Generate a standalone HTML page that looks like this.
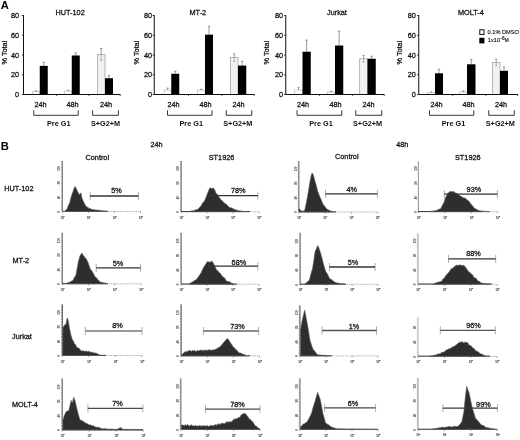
<!DOCTYPE html>
<html><head><meta charset="utf-8"><title>Figure</title>
<style>
html,body{margin:0;padding:0;background:#fff;}
svg{display:block;filter:blur(0.3px);font-family:"Liberation Sans",sans-serif;}
</style></head><body>
<svg width="520" height="440" viewBox="0 0 520 440">
<rect width="520" height="440" fill="#fff"/>
<text x="55.50" y="15.00" font-size="7.3" text-anchor="start" fill="#111" stroke="#111" stroke-width="0.26">HUT-102</text>
<text x="0.00" y="0.00" font-size="7.3" text-anchor="start" fill="#111" stroke="#111" stroke-width="0.26" transform="translate(7.00,64.5) rotate(-90)">% Total</text>
<text x="19.00" y="97.10" font-size="7.3" text-anchor="end" fill="#111" stroke="#111" stroke-width="0.26">0</text>
<path d="M21.90 94.50H23.50" stroke="#111" stroke-width="0.9"/>
<text x="19.00" y="77.35" font-size="7.3" text-anchor="end" fill="#111" stroke="#111" stroke-width="0.26">20</text>
<path d="M21.90 74.75H23.50" stroke="#111" stroke-width="0.9"/>
<text x="19.00" y="57.60" font-size="7.3" text-anchor="end" fill="#111" stroke="#111" stroke-width="0.26">40</text>
<path d="M21.90 55.00H23.50" stroke="#111" stroke-width="0.9"/>
<text x="19.00" y="37.85" font-size="7.3" text-anchor="end" fill="#111" stroke="#111" stroke-width="0.26">60</text>
<path d="M21.90 35.25H23.50" stroke="#111" stroke-width="0.9"/>
<text x="19.00" y="18.10" font-size="7.3" text-anchor="end" fill="#111" stroke="#111" stroke-width="0.26">80</text>
<path d="M21.90 15.50H23.50" stroke="#111" stroke-width="0.9"/>
<rect x="32.40" y="91.54" width="7.35" height="2.96" fill="#fbfbfb" stroke="#c4c4c4" stroke-width="0.8"/>
<path d="M36.08 91.54V90.75M34.88 90.75H37.28" stroke="#777" stroke-width="0.7" fill="none"/>
<path d="M43.75 65.86V62.31M42.55 62.31H44.95" stroke="#6e6e6e" stroke-width="0.7" fill="none"/>
<rect x="39.75" y="65.86" width="8.00" height="28.64" fill="#000"/>
<rect x="64.40" y="90.94" width="7.35" height="3.56" fill="#fbfbfb" stroke="#c4c4c4" stroke-width="0.8"/>
<path d="M68.08 90.94V90.16M66.88 90.16H69.28" stroke="#777" stroke-width="0.7" fill="none"/>
<path d="M75.75 55.49V52.93M74.55 52.93H76.95" stroke="#6e6e6e" stroke-width="0.7" fill="none"/>
<rect x="71.75" y="55.49" width="8.00" height="39.01" fill="#000"/>
<rect x="97.40" y="54.51" width="7.60" height="39.99" fill="#f1f1f1" stroke="#a8a8a8" stroke-width="0.8"/>
<path d="M101.20 54.51V48.58M100.00 48.58H102.40" stroke="#777" stroke-width="0.7" fill="none"/>
<path d="M101.20 54.51V60.43M100.00 60.43H102.40" stroke="#999" stroke-width="0.7" fill="none"/>
<path d="M109.00 78.21V75.64M107.80 75.64H110.20" stroke="#6e6e6e" stroke-width="0.7" fill="none"/>
<rect x="105.00" y="78.21" width="8.00" height="16.29" fill="#000"/>
<path d="M23.50 15.20V94.50H120.50" stroke="#111" stroke-width="1" fill="none"/>
<path d="M56.63 94.50v1.5" stroke="#333" stroke-width="0.8"/>
<path d="M88.97 94.50v1.5" stroke="#333" stroke-width="0.8"/>
<path d="M120.20 94.50v1.5" stroke="#333" stroke-width="0.8"/>
<text x="34.40" y="107.00" font-size="7.3" text-anchor="start" fill="#111" stroke="#111" stroke-width="0.26">24h</text>
<text x="66.50" y="107.00" font-size="7.3" text-anchor="start" fill="#111" stroke="#111" stroke-width="0.26">48h</text>
<text x="100.00" y="107.00" font-size="7.3" text-anchor="start" fill="#111" stroke="#111" stroke-width="0.26">24h</text>
<path d="M33.75 110.3V115.3H78.20V110.3" stroke="#222" stroke-width="0.9" fill="none"/>
<path d="M92.60 110.3V115.3H118.40V110.3" stroke="#222" stroke-width="0.9" fill="none"/>
<text x="47.00" y="126.40" font-size="7.3" font-weight="bold" text-anchor="start" fill="#111">Pre G1</text>
<text x="90.90" y="126.40" font-size="7.3" font-weight="bold" text-anchor="start" fill="#111">S+G2+M</text>
<text x="189.50" y="15.00" font-size="7.3" text-anchor="start" fill="#111" stroke="#111" stroke-width="0.26">MT-2</text>
<text x="0.00" y="0.00" font-size="7.3" text-anchor="start" fill="#111" stroke="#111" stroke-width="0.26" transform="translate(138.60,64.5) rotate(-90)">% Total</text>
<text x="152.00" y="97.10" font-size="7.3" text-anchor="end" fill="#111" stroke="#111" stroke-width="0.26">0</text>
<path d="M152.65 94.50H154.25" stroke="#111" stroke-width="0.9"/>
<text x="152.00" y="77.35" font-size="7.3" text-anchor="end" fill="#111" stroke="#111" stroke-width="0.26">20</text>
<path d="M152.65 74.75H154.25" stroke="#111" stroke-width="0.9"/>
<text x="152.00" y="57.60" font-size="7.3" text-anchor="end" fill="#111" stroke="#111" stroke-width="0.26">40</text>
<path d="M152.65 55.00H154.25" stroke="#111" stroke-width="0.9"/>
<text x="152.00" y="37.85" font-size="7.3" text-anchor="end" fill="#111" stroke="#111" stroke-width="0.26">60</text>
<path d="M152.65 35.25H154.25" stroke="#111" stroke-width="0.9"/>
<text x="152.00" y="18.10" font-size="7.3" text-anchor="end" fill="#111" stroke="#111" stroke-width="0.26">80</text>
<path d="M152.65 15.50H154.25" stroke="#111" stroke-width="0.9"/>
<rect x="164.15" y="90.06" width="7.10" height="4.44" fill="#fbfbfb" stroke="#c4c4c4" stroke-width="0.8"/>
<path d="M167.70 90.06V88.08M166.50 88.08H168.90" stroke="#777" stroke-width="0.7" fill="none"/>
<path d="M175.25 73.76V71.29M174.05 71.29H176.45" stroke="#6e6e6e" stroke-width="0.7" fill="none"/>
<rect x="171.25" y="73.76" width="8.00" height="20.74" fill="#000"/>
<rect x="197.40" y="90.06" width="7.60" height="4.44" fill="#fbfbfb" stroke="#c4c4c4" stroke-width="0.8"/>
<path d="M201.20 90.06V89.27M200.00 89.27H202.40" stroke="#777" stroke-width="0.7" fill="none"/>
<path d="M209.00 34.66V26.36M207.80 26.36H210.20" stroke="#6e6e6e" stroke-width="0.7" fill="none"/>
<rect x="205.00" y="34.66" width="8.00" height="59.84" fill="#000"/>
<rect x="230.40" y="57.57" width="7.60" height="36.93" fill="#f1f1f1" stroke="#a8a8a8" stroke-width="0.8"/>
<path d="M234.20 57.57V53.82M233.00 53.82H235.40" stroke="#777" stroke-width="0.7" fill="none"/>
<path d="M234.20 57.57V61.32M233.00 61.32H235.40" stroke="#999" stroke-width="0.7" fill="none"/>
<path d="M242.12 65.57V61.42M240.93 61.42H243.32" stroke="#6e6e6e" stroke-width="0.7" fill="none"/>
<rect x="238.00" y="65.57" width="8.25" height="28.93" fill="#000"/>
<path d="M154.25 15.20V94.50H254.50" stroke="#111" stroke-width="1" fill="none"/>
<path d="M188.47 94.50v1.5" stroke="#333" stroke-width="0.8"/>
<path d="M221.88 94.50v1.5" stroke="#333" stroke-width="0.8"/>
<path d="M254.20 94.50v1.5" stroke="#333" stroke-width="0.8"/>
<text x="167.50" y="107.00" font-size="7.3" text-anchor="start" fill="#111" stroke="#111" stroke-width="0.26">24h</text>
<text x="199.50" y="107.00" font-size="7.3" text-anchor="start" fill="#111" stroke="#111" stroke-width="0.26">48h</text>
<text x="232.50" y="107.00" font-size="7.3" text-anchor="start" fill="#111" stroke="#111" stroke-width="0.26">24h</text>
<path d="M167.50 110.3V115.3H212.00V110.3" stroke="#222" stroke-width="0.9" fill="none"/>
<path d="M226.25 110.3V115.3H251.75V110.3" stroke="#222" stroke-width="0.9" fill="none"/>
<text x="179.50" y="126.40" font-size="7.3" font-weight="bold" text-anchor="start" fill="#111">Pre G1</text>
<text x="223.25" y="126.40" font-size="7.3" font-weight="bold" text-anchor="start" fill="#111">S+G2+M</text>
<text x="327.00" y="15.00" font-size="7.3" text-anchor="start" fill="#111" stroke="#111" stroke-width="0.26">Jurkat</text>
<text x="0.00" y="0.00" font-size="7.3" text-anchor="start" fill="#111" stroke="#111" stroke-width="0.26" transform="translate(269.40,64.5) rotate(-90)">% Total</text>
<text x="283.00" y="97.10" font-size="7.3" text-anchor="end" fill="#111" stroke="#111" stroke-width="0.26">0</text>
<path d="M284.15 94.50H285.75" stroke="#111" stroke-width="0.9"/>
<text x="283.00" y="77.35" font-size="7.3" text-anchor="end" fill="#111" stroke="#111" stroke-width="0.26">20</text>
<path d="M284.15 74.75H285.75" stroke="#111" stroke-width="0.9"/>
<text x="283.00" y="57.60" font-size="7.3" text-anchor="end" fill="#111" stroke="#111" stroke-width="0.26">40</text>
<path d="M284.15 55.00H285.75" stroke="#111" stroke-width="0.9"/>
<text x="283.00" y="37.85" font-size="7.3" text-anchor="end" fill="#111" stroke="#111" stroke-width="0.26">60</text>
<path d="M284.15 35.25H285.75" stroke="#111" stroke-width="0.9"/>
<text x="283.00" y="18.10" font-size="7.3" text-anchor="end" fill="#111" stroke="#111" stroke-width="0.26">80</text>
<path d="M284.15 15.50H285.75" stroke="#111" stroke-width="0.9"/>
<rect x="294.65" y="90.06" width="7.85" height="4.44" fill="#fbfbfb" stroke="#c4c4c4" stroke-width="0.8"/>
<path d="M298.57 90.06V87.59M297.38 87.59H299.77" stroke="#777" stroke-width="0.7" fill="none"/>
<path d="M306.62 51.74V40.09M305.43 40.09H307.82" stroke="#6e6e6e" stroke-width="0.7" fill="none"/>
<rect x="302.50" y="51.74" width="8.25" height="42.76" fill="#000"/>
<rect x="327.40" y="92.03" width="7.60" height="2.47" fill="#fbfbfb" stroke="#c4c4c4" stroke-width="0.8"/>
<path d="M331.20 92.03V91.24M330.00 91.24H332.40" stroke="#777" stroke-width="0.7" fill="none"/>
<path d="M339.12 45.52V31.30M337.93 31.30H340.32" stroke="#6e6e6e" stroke-width="0.7" fill="none"/>
<rect x="335.00" y="45.52" width="8.25" height="48.98" fill="#000"/>
<rect x="359.65" y="58.75" width="7.85" height="35.75" fill="#f1f1f1" stroke="#a8a8a8" stroke-width="0.8"/>
<path d="M363.57 58.75V55.49M362.38 55.49H364.77" stroke="#777" stroke-width="0.7" fill="none"/>
<path d="M363.57 58.75V62.01M362.38 62.01H364.77" stroke="#999" stroke-width="0.7" fill="none"/>
<path d="M371.62 58.75V56.28M370.43 56.28H372.82" stroke="#6e6e6e" stroke-width="0.7" fill="none"/>
<rect x="367.50" y="58.75" width="8.25" height="35.75" fill="#000"/>
<path d="M285.75 15.20V94.50H384.50" stroke="#111" stroke-width="1" fill="none"/>
<path d="M319.47 94.50v1.5" stroke="#333" stroke-width="0.8"/>
<path d="M352.38 94.50v1.5" stroke="#333" stroke-width="0.8"/>
<path d="M384.20 94.50v1.5" stroke="#333" stroke-width="0.8"/>
<text x="297.00" y="107.00" font-size="7.3" text-anchor="start" fill="#111" stroke="#111" stroke-width="0.26">24h</text>
<text x="329.50" y="107.00" font-size="7.3" text-anchor="start" fill="#111" stroke="#111" stroke-width="0.26">48h</text>
<text x="362.50" y="107.00" font-size="7.3" text-anchor="start" fill="#111" stroke="#111" stroke-width="0.26">24h</text>
<path d="M297.00 110.3V115.3H341.75V110.3" stroke="#222" stroke-width="0.9" fill="none"/>
<path d="M355.75 110.3V115.3H381.75V110.3" stroke="#222" stroke-width="0.9" fill="none"/>
<text x="309.25" y="126.40" font-size="7.3" font-weight="bold" text-anchor="start" fill="#111">Pre G1</text>
<text x="353.00" y="126.40" font-size="7.3" font-weight="bold" text-anchor="start" fill="#111">S+G2+M</text>
<text x="458.00" y="15.00" font-size="7.3" text-anchor="start" fill="#111" stroke="#111" stroke-width="0.26">MOLT-4</text>
<text x="0.00" y="0.00" font-size="7.3" text-anchor="start" fill="#111" stroke="#111" stroke-width="0.26" transform="translate(402.40,64.5) rotate(-90)">% Total</text>
<text x="415.75" y="97.10" font-size="7.3" text-anchor="end" fill="#111" stroke="#111" stroke-width="0.26">0</text>
<path d="M417.15 94.50H418.75" stroke="#111" stroke-width="0.9"/>
<text x="415.75" y="77.35" font-size="7.3" text-anchor="end" fill="#111" stroke="#111" stroke-width="0.26">20</text>
<path d="M417.15 74.75H418.75" stroke="#111" stroke-width="0.9"/>
<text x="415.75" y="57.60" font-size="7.3" text-anchor="end" fill="#111" stroke="#111" stroke-width="0.26">40</text>
<path d="M417.15 55.00H418.75" stroke="#111" stroke-width="0.9"/>
<text x="415.75" y="37.85" font-size="7.3" text-anchor="end" fill="#111" stroke="#111" stroke-width="0.26">60</text>
<path d="M417.15 35.25H418.75" stroke="#111" stroke-width="0.9"/>
<text x="415.75" y="18.10" font-size="7.3" text-anchor="end" fill="#111" stroke="#111" stroke-width="0.26">80</text>
<path d="M417.15 15.50H418.75" stroke="#111" stroke-width="0.9"/>
<rect x="427.40" y="92.53" width="7.60" height="1.97" fill="#fbfbfb" stroke="#c4c4c4" stroke-width="0.8"/>
<path d="M431.20 92.53V91.93M430.00 91.93H432.40" stroke="#777" stroke-width="0.7" fill="none"/>
<path d="M439.00 73.27V69.32M437.80 69.32H440.20" stroke="#6e6e6e" stroke-width="0.7" fill="none"/>
<rect x="435.00" y="73.27" width="8.00" height="21.23" fill="#000"/>
<rect x="459.65" y="92.03" width="7.35" height="2.47" fill="#fbfbfb" stroke="#c4c4c4" stroke-width="0.8"/>
<path d="M463.32 92.03V90.85M462.12 90.85H464.52" stroke="#777" stroke-width="0.7" fill="none"/>
<path d="M471.25 64.28V59.54M470.05 59.54H472.45" stroke="#6e6e6e" stroke-width="0.7" fill="none"/>
<rect x="467.00" y="64.28" width="8.50" height="30.22" fill="#000"/>
<rect x="492.40" y="62.51" width="7.60" height="31.99" fill="#f1f1f1" stroke="#a8a8a8" stroke-width="0.8"/>
<path d="M496.20 62.51V59.25M495.00 59.25H497.40" stroke="#777" stroke-width="0.7" fill="none"/>
<path d="M496.20 62.51V65.76M495.00 65.76H497.40" stroke="#999" stroke-width="0.7" fill="none"/>
<path d="M504.00 70.80V67.05M502.80 67.05H505.20" stroke="#6e6e6e" stroke-width="0.7" fill="none"/>
<rect x="500.00" y="70.80" width="8.00" height="23.70" fill="#000"/>
<path d="M418.75 15.20V94.50H518.00" stroke="#111" stroke-width="1" fill="none"/>
<path d="M452.63 94.50v1.5" stroke="#333" stroke-width="0.8"/>
<path d="M485.72 94.50v1.5" stroke="#333" stroke-width="0.8"/>
<path d="M517.70 94.50v1.5" stroke="#333" stroke-width="0.8"/>
<text x="430.50" y="107.00" font-size="7.3" text-anchor="start" fill="#111" stroke="#111" stroke-width="0.26">24h</text>
<text x="462.50" y="107.00" font-size="7.3" text-anchor="start" fill="#111" stroke="#111" stroke-width="0.26">48h</text>
<text x="495.00" y="107.00" font-size="7.3" text-anchor="start" fill="#111" stroke="#111" stroke-width="0.26">24h</text>
<path d="M429.50 110.3V115.3H473.75V110.3" stroke="#222" stroke-width="0.9" fill="none"/>
<path d="M488.75 110.3V115.3H514.25V110.3" stroke="#222" stroke-width="0.9" fill="none"/>
<text x="441.75" y="126.40" font-size="7.3" font-weight="bold" text-anchor="start" fill="#111">Pre G1</text>
<text x="485.75" y="126.40" font-size="7.3" font-weight="bold" text-anchor="start" fill="#111">S+G2+M</text>
<text x="0.80" y="9.20" font-size="11.2" font-weight="bold" text-anchor="start" fill="#000">A</text>
<text x="0.80" y="149.60" font-size="11.2" font-weight="bold" text-anchor="start" fill="#000">B</text>
<rect x="479.8" y="29.8" width="4.2" height="4.7" fill="#fff" stroke="#111" stroke-width="1"/>
<rect x="479.3" y="37.8" width="5.1" height="5.6" fill="#000"/>
<text x="487.60" y="33.80" font-size="5.65" text-anchor="start" fill="#111" stroke="#111" stroke-width="0.14">0.1% DMSO</text>
<text x="487.80" y="41.90" font-size="5.65" text-anchor="start" fill="#111" stroke="#111" stroke-width="0.14">1x10<tspan dy="-2.2" font-size="5.4">-6</tspan><tspan dy="2.2" font-size="4.8">M</tspan></text>
<text x="150.50" y="146.80" font-size="7.3" text-anchor="start" fill="#111" stroke="#111" stroke-width="0.26">24h</text>
<text x="396.25" y="147.00" font-size="7.3" text-anchor="start" fill="#111" stroke="#111" stroke-width="0.26">48h</text>
<text x="85.50" y="159.50" font-size="7.3" text-anchor="start" fill="#111" stroke="#111" stroke-width="0.26">Control</text>
<text x="208.75" y="159.50" font-size="7.3" text-anchor="start" fill="#111" stroke="#111" stroke-width="0.26">ST1926</text>
<text x="335.00" y="159.30" font-size="7.3" text-anchor="start" fill="#111" stroke="#111" stroke-width="0.26">Control</text>
<text x="455.00" y="159.70" font-size="7.3" text-anchor="start" fill="#111" stroke="#111" stroke-width="0.26">ST1926</text>
<text x="4.25" y="191.30" font-size="7.3" text-anchor="start" fill="#111" stroke="#111" stroke-width="0.26">HUT-102</text>
<text x="12.50" y="262.80" font-size="7.3" text-anchor="start" fill="#111" stroke="#111" stroke-width="0.26">MT-2</text>
<text x="12.00" y="338.75" font-size="7.3" text-anchor="start" fill="#111" stroke="#111" stroke-width="0.26">Jurkat</text>
<text x="12.00" y="406.80" font-size="7.3" text-anchor="start" fill="#111" stroke="#111" stroke-width="0.26">MOLT-4</text>
<path d="M62.30 161.00V211.50" stroke="#555" stroke-width="0.9" fill="none"/>
<path d="M61.60 161.00V211.50" stroke="#555" stroke-width="0.9" stroke-dasharray="0.6 0.9" stroke-opacity="0.75" fill="none"/>
<path d="M62.30 211.50H140.60" stroke="#a8a8a8" stroke-width="0.9" stroke-dasharray="1.1 0.7" fill="none"/>
<text x="0.00" y="0.00" font-size="2.7" text-anchor="start" fill="#666" stroke="#666" stroke-width="0.14" transform="translate(60.30,212.59) rotate(-90)">0</text>
<text x="0.00" y="0.00" font-size="2.7" text-anchor="start" fill="#666" stroke="#666" stroke-width="0.14" transform="translate(60.30,198.98) rotate(-90)">40</text>
<text x="0.00" y="0.00" font-size="2.7" text-anchor="start" fill="#666" stroke="#666" stroke-width="0.14" transform="translate(60.30,184.28) rotate(-90)">80</text>
<text x="0.00" y="0.00" font-size="2.7" text-anchor="start" fill="#666" stroke="#666" stroke-width="0.14" transform="translate(60.30,170.66) rotate(-90)">120</text>
<path d="M62.30 211.50v1.6" stroke="#777" stroke-width="0.7"/>
<text x="60.60" y="218.50" font-size="2.7" text-anchor="start" fill="#444" stroke="#444" stroke-width="0.14">10<tspan dy="-1.9" dx="-0.4" font-size="2.4">0</tspan></text>
<path d="M88.40 211.50v1.6" stroke="#777" stroke-width="0.7"/>
<text x="86.70" y="218.50" font-size="2.7" text-anchor="start" fill="#444" stroke="#444" stroke-width="0.14">10<tspan dy="-1.9" dx="-0.4" font-size="2.4">1</tspan></text>
<path d="M114.50 211.50v1.6" stroke="#777" stroke-width="0.7"/>
<text x="112.80" y="218.50" font-size="2.7" text-anchor="start" fill="#444" stroke="#444" stroke-width="0.14">10<tspan dy="-1.9" dx="-0.4" font-size="2.4">2</tspan></text>
<path d="M140.60 211.50v1.6" stroke="#777" stroke-width="0.7"/>
<text x="138.90" y="218.50" font-size="2.7" text-anchor="start" fill="#444" stroke="#444" stroke-width="0.14">10<tspan dy="-1.9" dx="-0.4" font-size="2.4">3</tspan></text>
<path d="M63.00 211.35H108.00" stroke="#3a3a3a" stroke-width="1" fill="none"/>
<path d="M90.10 192.00v8M138.40 192.00v8" stroke="#999" stroke-width="0.8" fill="none"/>
<path d="M64.50 211.30 L65.75 210.13 L67.00 209.11 L68.25 205.54 L69.50 203.27 L70.75 198.18 L72.00 193.90 L72.97 191.65 L73.93 188.45 L74.90 186.41 L75.95 187.86 L77.00 190.27 L78.25 192.75 L79.50 194.83 L81.00 192.82 L82.00 198.20 L83.10 200.75 L84.20 202.90 L85.30 205.17 L86.22 206.27 L87.15 207.13 L88.08 207.18 L89.00 208.72 L90.00 208.25 L91.00 209.00 L92.00 209.36 L93.00 209.63 L94.00 209.73 L95.00 209.64 L95.92 210.16 L96.85 209.99 L97.77 210.05 L98.69 210.32 L99.62 210.30 L100.54 210.55 L101.46 210.65 L102.38 210.74 L103.31 210.83 L104.23 210.92 L105.15 211.02 L106.08 211.11 L107.00 211.20 L107.00 211.50 L64.50 211.50Z" fill="#2e2e2e" stroke="#666" stroke-width="0.6" stroke-linejoin="round"/>
<path d="M90.10 196.00H138.40" stroke="#333" stroke-width="1.3" fill="none"/>
<text x="116.40" y="193.40" font-size="7.3" text-anchor="middle" fill="#111" stroke="#111" stroke-width="0.26">5%</text>
<path d="M181.20 161.00V211.70" stroke="#555" stroke-width="0.9" fill="none"/>
<path d="M180.50 161.00V211.70" stroke="#555" stroke-width="0.9" stroke-dasharray="0.6 0.9" stroke-opacity="0.75" fill="none"/>
<path d="M181.20 211.70H259.00" stroke="#a8a8a8" stroke-width="0.9" stroke-dasharray="1.1 0.7" fill="none"/>
<text x="0.00" y="0.00" font-size="2.7" text-anchor="start" fill="#666" stroke="#666" stroke-width="0.14" transform="translate(179.20,212.79) rotate(-90)">0</text>
<text x="0.00" y="0.00" font-size="2.7" text-anchor="start" fill="#666" stroke="#666" stroke-width="0.14" transform="translate(179.20,199.18) rotate(-90)">40</text>
<text x="0.00" y="0.00" font-size="2.7" text-anchor="start" fill="#666" stroke="#666" stroke-width="0.14" transform="translate(179.20,184.47) rotate(-90)">80</text>
<text x="0.00" y="0.00" font-size="2.7" text-anchor="start" fill="#666" stroke="#666" stroke-width="0.14" transform="translate(179.20,170.86) rotate(-90)">120</text>
<path d="M181.20 211.70v1.6" stroke="#777" stroke-width="0.7"/>
<text x="179.50" y="218.70" font-size="2.7" text-anchor="start" fill="#444" stroke="#444" stroke-width="0.14">10<tspan dy="-1.9" dx="-0.4" font-size="2.4">0</tspan></text>
<path d="M207.13 211.70v1.6" stroke="#777" stroke-width="0.7"/>
<text x="205.43" y="218.70" font-size="2.7" text-anchor="start" fill="#444" stroke="#444" stroke-width="0.14">10<tspan dy="-1.9" dx="-0.4" font-size="2.4">1</tspan></text>
<path d="M233.07 211.70v1.6" stroke="#777" stroke-width="0.7"/>
<text x="231.37" y="218.70" font-size="2.7" text-anchor="start" fill="#444" stroke="#444" stroke-width="0.14">10<tspan dy="-1.9" dx="-0.4" font-size="2.4">2</tspan></text>
<path d="M259.00 211.70v1.6" stroke="#777" stroke-width="0.7"/>
<text x="257.30" y="218.70" font-size="2.7" text-anchor="start" fill="#444" stroke="#444" stroke-width="0.14">10<tspan dy="-1.9" dx="-0.4" font-size="2.4">3</tspan></text>
<path d="M181.00 211.55H250.00" stroke="#3a3a3a" stroke-width="1" fill="none"/>
<path d="M209.00 191.70v8M257.90 191.70v8" stroke="#999" stroke-width="0.8" fill="none"/>
<path d="M189.00 211.50 L189.97 211.28 L190.93 211.06 L191.90 210.83 L192.87 210.75 L193.83 210.54 L194.80 210.22 L195.77 209.66 L196.73 209.62 L197.70 209.48 L198.80 208.04 L199.90 206.97 L201.00 205.98 L202.20 203.63 L203.40 202.01 L204.60 200.85 L205.57 198.17 L206.53 195.96 L207.50 193.26 L208.50 190.69 L209.50 188.50 L210.40 187.62 L211.30 188.71 L212.20 188.33 L213.10 187.91 L214.00 188.67 L215.00 190.49 L216.00 193.31 L217.00 194.02 L218.00 195.40 L219.00 197.14 L220.00 198.26 L220.90 199.86 L221.80 200.28 L222.70 201.31 L223.60 202.23 L224.50 203.29 L225.57 203.68 L226.65 204.42 L227.73 205.89 L228.80 206.55 L229.84 207.75 L230.88 207.57 L231.92 208.16 L232.96 208.39 L234.00 209.08 L235.00 209.74 L236.00 209.91 L237.00 209.96 L238.00 210.63 L239.00 210.70 L240.00 210.83 L241.00 210.96 L242.00 211.09 L243.00 211.21 L244.00 211.34 L245.00 211.47 L246.00 211.60 L246.00 211.70 L189.00 211.70Z" fill="#2e2e2e" stroke="#666" stroke-width="0.6" stroke-linejoin="round"/>
<path d="M209.00 195.70H257.90" stroke="#333" stroke-width="1.3" fill="none"/>
<text x="238.30" y="193.20" font-size="7.3" text-anchor="middle" fill="#111" stroke="#111" stroke-width="0.26">78%</text>
<path d="M298.90 161.00V212.00" stroke="#555" stroke-width="0.9" fill="none"/>
<path d="M298.20 161.00V212.00" stroke="#555" stroke-width="0.9" stroke-dasharray="0.6 0.9" stroke-opacity="0.75" fill="none"/>
<path d="M298.90 212.00H377.40" stroke="#a8a8a8" stroke-width="0.9" stroke-dasharray="1.1 0.7" fill="none"/>
<text x="0.00" y="0.00" font-size="2.7" text-anchor="start" fill="#666" stroke="#666" stroke-width="0.14" transform="translate(296.90,213.09) rotate(-90)">0</text>
<text x="0.00" y="0.00" font-size="2.7" text-anchor="start" fill="#666" stroke="#666" stroke-width="0.14" transform="translate(296.90,199.48) rotate(-90)">40</text>
<text x="0.00" y="0.00" font-size="2.7" text-anchor="start" fill="#666" stroke="#666" stroke-width="0.14" transform="translate(296.90,184.78) rotate(-90)">80</text>
<text x="0.00" y="0.00" font-size="2.7" text-anchor="start" fill="#666" stroke="#666" stroke-width="0.14" transform="translate(296.90,171.16) rotate(-90)">120</text>
<path d="M298.90 212.00v1.6" stroke="#777" stroke-width="0.7"/>
<text x="297.20" y="219.00" font-size="2.7" text-anchor="start" fill="#444" stroke="#444" stroke-width="0.14">10<tspan dy="-1.9" dx="-0.4" font-size="2.4">0</tspan></text>
<path d="M325.07 212.00v1.6" stroke="#777" stroke-width="0.7"/>
<text x="323.37" y="219.00" font-size="2.7" text-anchor="start" fill="#444" stroke="#444" stroke-width="0.14">10<tspan dy="-1.9" dx="-0.4" font-size="2.4">1</tspan></text>
<path d="M351.23 212.00v1.6" stroke="#777" stroke-width="0.7"/>
<text x="349.53" y="219.00" font-size="2.7" text-anchor="start" fill="#444" stroke="#444" stroke-width="0.14">10<tspan dy="-1.9" dx="-0.4" font-size="2.4">2</tspan></text>
<path d="M377.40 212.00v1.6" stroke="#777" stroke-width="0.7"/>
<text x="375.70" y="219.00" font-size="2.7" text-anchor="start" fill="#444" stroke="#444" stroke-width="0.14">10<tspan dy="-1.9" dx="-0.4" font-size="2.4">3</tspan></text>
<path d="M299.00 211.85H336.00" stroke="#3a3a3a" stroke-width="1" fill="none"/>
<path d="M325.50 189.90v8M377.40 189.90v8" stroke="#999" stroke-width="0.8" fill="none"/>
<path d="M299.00 208.84 L300.30 209.60 L301.50 211.20 L302.57 211.07 L303.63 210.88 L304.70 210.17 L306.00 204.15 L307.30 197.45 L308.60 189.92 L309.90 181.96 L311.00 176.06 L312.00 172.99 L313.20 174.47 L314.50 179.25 L315.57 183.09 L316.63 186.80 L317.70 191.31 L318.77 193.96 L319.85 196.86 L320.93 199.02 L322.00 201.75 L323.04 204.15 L324.08 205.50 L325.12 206.81 L326.16 208.18 L327.20 209.33 L328.17 209.65 L329.13 210.28 L330.10 210.83 L331.07 211.03 L332.03 211.42 L333.00 211.80 L333.00 212.00 L299.00 212.00Z" fill="#2e2e2e" stroke="#666" stroke-width="0.6" stroke-linejoin="round"/>
<path d="M325.50 193.90H377.40" stroke="#333" stroke-width="1.3" fill="none"/>
<text x="351.80" y="192.00" font-size="7.3" text-anchor="middle" fill="#111" stroke="#111" stroke-width="0.26">4%</text>
<path d="M418.50 161.50V211.70" stroke="#999" stroke-width="0.9" fill="none"/>
<path d="M417.80 161.50V211.70" stroke="#999" stroke-width="0.9" stroke-dasharray="0.6 0.9" stroke-opacity="0.75" fill="none"/>
<path d="M418.50 211.70H497.80" stroke="#a8a8a8" stroke-width="0.9" stroke-dasharray="1.1 0.7" fill="none"/>
<text x="0.00" y="0.00" font-size="2.7" text-anchor="start" fill="#666" stroke="#666" stroke-width="0.14" transform="translate(416.50,212.79) rotate(-90)">0</text>
<text x="0.00" y="0.00" font-size="2.7" text-anchor="start" fill="#666" stroke="#666" stroke-width="0.14" transform="translate(416.50,199.18) rotate(-90)">40</text>
<text x="0.00" y="0.00" font-size="2.7" text-anchor="start" fill="#666" stroke="#666" stroke-width="0.14" transform="translate(416.50,184.47) rotate(-90)">80</text>
<text x="0.00" y="0.00" font-size="2.7" text-anchor="start" fill="#666" stroke="#666" stroke-width="0.14" transform="translate(416.50,170.86) rotate(-90)">120</text>
<path d="M418.50 211.70v1.6" stroke="#777" stroke-width="0.7"/>
<text x="416.80" y="218.70" font-size="2.7" text-anchor="start" fill="#444" stroke="#444" stroke-width="0.14">10<tspan dy="-1.9" dx="-0.4" font-size="2.4">0</tspan></text>
<path d="M444.93 211.70v1.6" stroke="#777" stroke-width="0.7"/>
<text x="443.23" y="218.70" font-size="2.7" text-anchor="start" fill="#444" stroke="#444" stroke-width="0.14">10<tspan dy="-1.9" dx="-0.4" font-size="2.4">1</tspan></text>
<path d="M471.37 211.70v1.6" stroke="#777" stroke-width="0.7"/>
<text x="469.67" y="218.70" font-size="2.7" text-anchor="start" fill="#444" stroke="#444" stroke-width="0.14">10<tspan dy="-1.9" dx="-0.4" font-size="2.4">2</tspan></text>
<path d="M497.80 211.70v1.6" stroke="#777" stroke-width="0.7"/>
<text x="496.10" y="218.70" font-size="2.7" text-anchor="start" fill="#444" stroke="#444" stroke-width="0.14">10<tspan dy="-1.9" dx="-0.4" font-size="2.4">3</tspan></text>
<path d="M418.00 211.55H482.00" stroke="#3a3a3a" stroke-width="1" fill="none"/>
<path d="M444.30 190.10v8M497.40 190.10v8" stroke="#999" stroke-width="0.8" fill="none"/>
<path d="M429.00 211.40 L430.00 211.29 L431.00 211.17 L432.00 211.06 L433.00 210.94 L434.00 210.83 L435.00 210.71 L436.00 210.52 L436.94 210.22 L437.88 209.76 L438.82 209.13 L439.76 208.99 L440.70 208.80 L441.85 206.34 L443.00 204.01 L444.00 202.24 L445.00 198.63 L446.25 196.33 L447.50 193.76 L448.75 192.40 L450.00 191.47 L451.13 191.46 L452.27 191.83 L453.40 191.16 L454.32 192.36 L455.24 192.84 L456.16 193.14 L457.08 193.68 L458.00 193.93 L458.98 194.95 L459.96 195.68 L460.94 196.15 L461.92 196.87 L462.90 197.20 L463.96 198.27 L465.02 197.84 L466.08 198.81 L467.14 200.03 L468.20 200.54 L469.13 201.59 L470.07 202.73 L471.00 204.21 L472.25 205.24 L473.50 207.16 L474.40 208.14 L475.30 208.55 L476.20 209.31 L477.10 209.70 L478.00 209.93 L478.90 210.40 L479.80 210.80 L480.73 210.87 L481.65 210.95 L482.58 211.02 L483.51 211.09 L484.44 211.16 L485.36 211.24 L486.29 211.31 L487.22 211.38 L488.15 211.45 L489.07 211.53 L490.00 211.60 L490.00 211.70 L429.00 211.70Z" fill="#2e2e2e" stroke="#666" stroke-width="0.6" stroke-linejoin="round"/>
<path d="M444.30 194.10H497.40" stroke="#333" stroke-width="1.3" fill="none"/>
<text x="473.90" y="192.00" font-size="7.3" text-anchor="middle" fill="#111" stroke="#111" stroke-width="0.26">93%</text>
<path d="M62.30 232.80V283.80" stroke="#555" stroke-width="0.9" fill="none"/>
<path d="M61.60 232.80V283.80" stroke="#555" stroke-width="0.9" stroke-dasharray="0.6 0.9" stroke-opacity="0.75" fill="none"/>
<path d="M62.30 283.80H141.00" stroke="#a8a8a8" stroke-width="0.9" stroke-dasharray="1.1 0.7" fill="none"/>
<text x="0.00" y="0.00" font-size="2.7" text-anchor="start" fill="#666" stroke="#666" stroke-width="0.14" transform="translate(60.30,284.89) rotate(-90)">0</text>
<text x="0.00" y="0.00" font-size="2.7" text-anchor="start" fill="#666" stroke="#666" stroke-width="0.14" transform="translate(60.30,271.28) rotate(-90)">40</text>
<text x="0.00" y="0.00" font-size="2.7" text-anchor="start" fill="#666" stroke="#666" stroke-width="0.14" transform="translate(60.30,256.57) rotate(-90)">80</text>
<text x="0.00" y="0.00" font-size="2.7" text-anchor="start" fill="#666" stroke="#666" stroke-width="0.14" transform="translate(60.30,242.96) rotate(-90)">120</text>
<path d="M62.30 283.80v1.6" stroke="#777" stroke-width="0.7"/>
<text x="60.60" y="290.80" font-size="2.7" text-anchor="start" fill="#444" stroke="#444" stroke-width="0.14">10<tspan dy="-1.9" dx="-0.4" font-size="2.4">0</tspan></text>
<path d="M88.53 283.80v1.6" stroke="#777" stroke-width="0.7"/>
<text x="86.83" y="290.80" font-size="2.7" text-anchor="start" fill="#444" stroke="#444" stroke-width="0.14">10<tspan dy="-1.9" dx="-0.4" font-size="2.4">1</tspan></text>
<path d="M114.77 283.80v1.6" stroke="#777" stroke-width="0.7"/>
<text x="113.07" y="290.80" font-size="2.7" text-anchor="start" fill="#444" stroke="#444" stroke-width="0.14">10<tspan dy="-1.9" dx="-0.4" font-size="2.4">2</tspan></text>
<path d="M141.00 283.80v1.6" stroke="#777" stroke-width="0.7"/>
<text x="139.30" y="290.80" font-size="2.7" text-anchor="start" fill="#444" stroke="#444" stroke-width="0.14">10<tspan dy="-1.9" dx="-0.4" font-size="2.4">3</tspan></text>
<path d="M62.00 283.65H108.00" stroke="#3a3a3a" stroke-width="1" fill="none"/>
<path d="M96.20 263.90v8M140.60 263.90v8" stroke="#999" stroke-width="0.8" fill="none"/>
<path d="M65.40 283.60 L66.39 283.26 L67.37 282.91 L68.36 282.23 L69.34 282.31 L70.33 282.08 L71.31 281.01 L72.30 280.99 L73.47 279.36 L74.63 276.88 L75.80 275.53 L77.10 268.39 L78.40 261.33 L80.00 255.77 L81.80 252.98 L82.90 254.78 L84.00 255.90 L85.00 257.65 L86.00 258.39 L87.00 260.19 L88.17 262.75 L89.33 266.18 L90.50 269.18 L91.58 270.39 L92.65 272.12 L93.72 274.24 L94.80 276.24 L95.84 277.19 L96.88 278.26 L97.92 279.84 L98.96 280.53 L100.00 281.65 L101.00 282.16 L102.00 282.42 L103.00 282.52 L104.00 282.80 L105.00 283.06 L106.00 283.33 L107.00 283.60 L107.00 283.80 L65.40 283.80Z" fill="#2e2e2e" stroke="#666" stroke-width="0.6" stroke-linejoin="round"/>
<path d="M96.20 267.90H140.60" stroke="#333" stroke-width="1.3" fill="none"/>
<text x="118.10" y="266.00" font-size="7.3" text-anchor="middle" fill="#111" stroke="#111" stroke-width="0.26">5%</text>
<path d="M181.20 232.80V284.20" stroke="#555" stroke-width="0.9" fill="none"/>
<path d="M180.50 232.80V284.20" stroke="#555" stroke-width="0.9" stroke-dasharray="0.6 0.9" stroke-opacity="0.75" fill="none"/>
<path d="M181.20 284.20H259.00" stroke="#a8a8a8" stroke-width="0.9" stroke-dasharray="1.1 0.7" fill="none"/>
<text x="0.00" y="0.00" font-size="2.7" text-anchor="start" fill="#666" stroke="#666" stroke-width="0.14" transform="translate(179.20,285.29) rotate(-90)">0</text>
<text x="0.00" y="0.00" font-size="2.7" text-anchor="start" fill="#666" stroke="#666" stroke-width="0.14" transform="translate(179.20,271.68) rotate(-90)">40</text>
<text x="0.00" y="0.00" font-size="2.7" text-anchor="start" fill="#666" stroke="#666" stroke-width="0.14" transform="translate(179.20,256.97) rotate(-90)">80</text>
<text x="0.00" y="0.00" font-size="2.7" text-anchor="start" fill="#666" stroke="#666" stroke-width="0.14" transform="translate(179.20,243.36) rotate(-90)">120</text>
<path d="M181.20 284.20v1.6" stroke="#777" stroke-width="0.7"/>
<text x="179.50" y="291.20" font-size="2.7" text-anchor="start" fill="#444" stroke="#444" stroke-width="0.14">10<tspan dy="-1.9" dx="-0.4" font-size="2.4">0</tspan></text>
<path d="M207.13 284.20v1.6" stroke="#777" stroke-width="0.7"/>
<text x="205.43" y="291.20" font-size="2.7" text-anchor="start" fill="#444" stroke="#444" stroke-width="0.14">10<tspan dy="-1.9" dx="-0.4" font-size="2.4">1</tspan></text>
<path d="M233.07 284.20v1.6" stroke="#777" stroke-width="0.7"/>
<text x="231.37" y="291.20" font-size="2.7" text-anchor="start" fill="#444" stroke="#444" stroke-width="0.14">10<tspan dy="-1.9" dx="-0.4" font-size="2.4">2</tspan></text>
<path d="M259.00 284.20v1.6" stroke="#777" stroke-width="0.7"/>
<text x="257.30" y="291.20" font-size="2.7" text-anchor="start" fill="#444" stroke="#444" stroke-width="0.14">10<tspan dy="-1.9" dx="-0.4" font-size="2.4">3</tspan></text>
<path d="M181.00 284.05H237.00" stroke="#3a3a3a" stroke-width="1" fill="none"/>
<path d="M207.20 262.20v8M257.90 262.20v8" stroke="#999" stroke-width="0.8" fill="none"/>
<path d="M189.00 284.00 L190.00 283.49 L191.00 282.71 L192.00 281.98 L193.00 281.81 L194.00 280.86 L195.00 280.24 L196.00 279.70 L197.02 278.74 L198.04 277.36 L199.06 275.79 L200.08 274.27 L201.10 272.70 L202.20 270.22 L203.30 267.93 L204.40 266.05 L205.50 264.56 L207.20 261.74 L208.24 261.55 L209.28 262.45 L210.32 261.73 L211.36 261.41 L212.40 261.57 L214.00 264.41 L215.35 267.26 L216.70 270.14 L217.74 270.57 L218.78 272.34 L219.82 272.95 L220.86 273.94 L221.90 275.86 L222.92 276.89 L223.94 277.25 L224.96 278.58 L225.98 280.28 L227.00 281.34 L228.00 281.71 L229.00 281.51 L230.00 282.02 L231.00 282.89 L232.00 283.20 L233.00 283.60 L234.00 284.00 L234.00 284.20 L189.00 284.20Z" fill="#2e2e2e" stroke="#666" stroke-width="0.6" stroke-linejoin="round"/>
<path d="M207.20 266.20H257.90" stroke="#333" stroke-width="1.3" fill="none"/>
<text x="238.90" y="264.80" font-size="7.3" text-anchor="middle" fill="#111" stroke="#111" stroke-width="0.26">68%</text>
<path d="M300.20 232.80V284.30" stroke="#555" stroke-width="0.9" fill="none"/>
<path d="M299.50 232.80V284.30" stroke="#555" stroke-width="0.9" stroke-dasharray="0.6 0.9" stroke-opacity="0.75" fill="none"/>
<path d="M300.20 284.30H378.00" stroke="#a8a8a8" stroke-width="0.9" stroke-dasharray="1.1 0.7" fill="none"/>
<text x="0.00" y="0.00" font-size="2.7" text-anchor="start" fill="#666" stroke="#666" stroke-width="0.14" transform="translate(298.20,285.39) rotate(-90)">0</text>
<text x="0.00" y="0.00" font-size="2.7" text-anchor="start" fill="#666" stroke="#666" stroke-width="0.14" transform="translate(298.20,271.78) rotate(-90)">40</text>
<text x="0.00" y="0.00" font-size="2.7" text-anchor="start" fill="#666" stroke="#666" stroke-width="0.14" transform="translate(298.20,257.07) rotate(-90)">80</text>
<text x="0.00" y="0.00" font-size="2.7" text-anchor="start" fill="#666" stroke="#666" stroke-width="0.14" transform="translate(298.20,243.46) rotate(-90)">120</text>
<path d="M300.20 284.30v1.6" stroke="#777" stroke-width="0.7"/>
<text x="298.50" y="291.30" font-size="2.7" text-anchor="start" fill="#444" stroke="#444" stroke-width="0.14">10<tspan dy="-1.9" dx="-0.4" font-size="2.4">0</tspan></text>
<path d="M326.13 284.30v1.6" stroke="#777" stroke-width="0.7"/>
<text x="324.43" y="291.30" font-size="2.7" text-anchor="start" fill="#444" stroke="#444" stroke-width="0.14">10<tspan dy="-1.9" dx="-0.4" font-size="2.4">1</tspan></text>
<path d="M352.07 284.30v1.6" stroke="#777" stroke-width="0.7"/>
<text x="350.37" y="291.30" font-size="2.7" text-anchor="start" fill="#444" stroke="#444" stroke-width="0.14">10<tspan dy="-1.9" dx="-0.4" font-size="2.4">2</tspan></text>
<path d="M378.00 284.30v1.6" stroke="#777" stroke-width="0.7"/>
<text x="376.30" y="291.30" font-size="2.7" text-anchor="start" fill="#444" stroke="#444" stroke-width="0.14">10<tspan dy="-1.9" dx="-0.4" font-size="2.4">3</tspan></text>
<path d="M300.00 284.15H346.00" stroke="#3a3a3a" stroke-width="1" fill="none"/>
<path d="M329.40 263.00v8M375.10 263.00v8" stroke="#999" stroke-width="0.8" fill="none"/>
<path d="M304.70 284.00 L305.77 283.30 L306.85 282.22 L307.93 281.33 L309.00 280.85 L310.17 276.82 L311.33 272.27 L312.50 268.49 L313.75 260.84 L315.00 251.84 L316.35 248.79 L317.70 245.50 L318.60 247.08 L319.50 249.81 L320.75 253.61 L322.00 258.02 L323.17 262.83 L324.33 266.81 L325.50 270.79 L326.57 272.81 L327.65 274.32 L328.73 276.68 L329.80 278.43 L330.80 279.52 L331.80 279.38 L332.80 280.73 L333.80 281.38 L334.80 282.04 L335.80 282.60 L336.72 283.04 L337.64 282.86 L338.56 283.36 L339.48 283.48 L340.40 283.60 L341.32 283.72 L342.24 283.84 L343.16 283.96 L344.08 284.08 L345.00 284.20 L345.00 284.30 L304.70 284.30Z" fill="#2e2e2e" stroke="#666" stroke-width="0.6" stroke-linejoin="round"/>
<path d="M329.40 267.00H375.10" stroke="#333" stroke-width="1.3" fill="none"/>
<text x="353.10" y="265.00" font-size="7.3" text-anchor="middle" fill="#111" stroke="#111" stroke-width="0.26">5%</text>
<path d="M418.00 233.50V284.20" stroke="#999" stroke-width="0.9" fill="none"/>
<path d="M417.30 233.50V284.20" stroke="#999" stroke-width="0.9" stroke-dasharray="0.6 0.9" stroke-opacity="0.75" fill="none"/>
<path d="M418.00 284.20H497.20" stroke="#a8a8a8" stroke-width="0.9" stroke-dasharray="1.1 0.7" fill="none"/>
<text x="0.00" y="0.00" font-size="2.7" text-anchor="start" fill="#666" stroke="#666" stroke-width="0.14" transform="translate(416.00,285.29) rotate(-90)">0</text>
<text x="0.00" y="0.00" font-size="2.7" text-anchor="start" fill="#666" stroke="#666" stroke-width="0.14" transform="translate(416.00,271.68) rotate(-90)">40</text>
<text x="0.00" y="0.00" font-size="2.7" text-anchor="start" fill="#666" stroke="#666" stroke-width="0.14" transform="translate(416.00,256.97) rotate(-90)">80</text>
<text x="0.00" y="0.00" font-size="2.7" text-anchor="start" fill="#666" stroke="#666" stroke-width="0.14" transform="translate(416.00,243.36) rotate(-90)">120</text>
<path d="M418.00 284.20v1.6" stroke="#777" stroke-width="0.7"/>
<text x="416.30" y="291.20" font-size="2.7" text-anchor="start" fill="#444" stroke="#444" stroke-width="0.14">10<tspan dy="-1.9" dx="-0.4" font-size="2.4">0</tspan></text>
<path d="M444.40 284.20v1.6" stroke="#777" stroke-width="0.7"/>
<text x="442.70" y="291.20" font-size="2.7" text-anchor="start" fill="#444" stroke="#444" stroke-width="0.14">10<tspan dy="-1.9" dx="-0.4" font-size="2.4">1</tspan></text>
<path d="M470.80 284.20v1.6" stroke="#777" stroke-width="0.7"/>
<text x="469.10" y="291.20" font-size="2.7" text-anchor="start" fill="#444" stroke="#444" stroke-width="0.14">10<tspan dy="-1.9" dx="-0.4" font-size="2.4">2</tspan></text>
<path d="M497.20 284.20v1.6" stroke="#777" stroke-width="0.7"/>
<text x="495.50" y="291.20" font-size="2.7" text-anchor="start" fill="#444" stroke="#444" stroke-width="0.14">10<tspan dy="-1.9" dx="-0.4" font-size="2.4">3</tspan></text>
<path d="M418.00 284.05H492.00" stroke="#3a3a3a" stroke-width="1" fill="none"/>
<path d="M448.50 254.80v8M495.70 254.80v8" stroke="#999" stroke-width="0.8" fill="none"/>
<path d="M433.30 284.00 L434.23 283.67 L435.17 283.33 L436.10 282.82 L437.03 282.44 L437.97 282.10 L438.90 282.28 L439.83 281.49 L440.77 281.46 L441.70 281.36 L442.76 278.96 L443.82 278.67 L444.88 276.90 L445.94 275.22 L447.00 274.25 L448.07 273.31 L449.15 271.66 L450.23 270.27 L451.30 268.56 L452.35 268.80 L453.40 267.14 L454.45 266.76 L455.50 265.81 L456.44 264.98 L457.39 265.43 L458.33 265.34 L459.28 265.00 L460.22 264.75 L461.17 265.54 L462.11 265.25 L463.06 265.43 L464.00 265.42 L465.25 266.72 L466.50 268.72 L467.85 270.38 L469.20 272.28 L470.11 272.41 L471.03 273.73 L471.94 274.35 L472.86 275.15 L473.77 277.22 L474.69 277.63 L475.60 277.90 L476.51 278.74 L477.43 280.41 L478.34 281.01 L479.26 281.22 L480.17 282.22 L481.09 282.64 L482.00 283.20 L483.00 283.31 L484.00 283.43 L485.00 283.54 L486.00 283.65 L487.00 283.76 L488.00 283.88 L489.00 283.99 L490.00 284.10 L490.00 284.20 L433.30 284.20Z" fill="#2e2e2e" stroke="#666" stroke-width="0.6" stroke-linejoin="round"/>
<path d="M448.50 258.80H495.70" stroke="#333" stroke-width="1.3" fill="none"/>
<text x="473.50" y="256.30" font-size="7.3" text-anchor="middle" fill="#111" stroke="#111" stroke-width="0.26">88%</text>
<path d="M62.30 304.50V355.50" stroke="#333" stroke-width="0.9" fill="none"/>
<path d="M61.60 304.50V355.50" stroke="#333" stroke-width="0.9" stroke-dasharray="0.6 0.9" stroke-opacity="0.75" fill="none"/>
<path d="M62.30 355.50H142.00" stroke="#a8a8a8" stroke-width="0.9" stroke-dasharray="1.1 0.7" fill="none"/>
<text x="0.00" y="0.00" font-size="2.7" text-anchor="start" fill="#666" stroke="#666" stroke-width="0.14" transform="translate(60.30,356.59) rotate(-90)">0</text>
<text x="0.00" y="0.00" font-size="2.7" text-anchor="start" fill="#666" stroke="#666" stroke-width="0.14" transform="translate(60.30,342.98) rotate(-90)">40</text>
<text x="0.00" y="0.00" font-size="2.7" text-anchor="start" fill="#666" stroke="#666" stroke-width="0.14" transform="translate(60.30,328.28) rotate(-90)">80</text>
<text x="0.00" y="0.00" font-size="2.7" text-anchor="start" fill="#666" stroke="#666" stroke-width="0.14" transform="translate(60.30,314.66) rotate(-90)">120</text>
<path d="M62.30 355.50v1.6" stroke="#777" stroke-width="0.7"/>
<text x="60.60" y="362.50" font-size="2.7" text-anchor="start" fill="#444" stroke="#444" stroke-width="0.14">10<tspan dy="-1.9" dx="-0.4" font-size="2.4">0</tspan></text>
<path d="M88.87 355.50v1.6" stroke="#777" stroke-width="0.7"/>
<text x="87.17" y="362.50" font-size="2.7" text-anchor="start" fill="#444" stroke="#444" stroke-width="0.14">10<tspan dy="-1.9" dx="-0.4" font-size="2.4">1</tspan></text>
<path d="M115.43 355.50v1.6" stroke="#777" stroke-width="0.7"/>
<text x="113.73" y="362.50" font-size="2.7" text-anchor="start" fill="#444" stroke="#444" stroke-width="0.14">10<tspan dy="-1.9" dx="-0.4" font-size="2.4">2</tspan></text>
<path d="M142.00 355.50v1.6" stroke="#777" stroke-width="0.7"/>
<text x="140.30" y="362.50" font-size="2.7" text-anchor="start" fill="#444" stroke="#444" stroke-width="0.14">10<tspan dy="-1.9" dx="-0.4" font-size="2.4">3</tspan></text>
<path d="M62.00 355.35H106.00" stroke="#3a3a3a" stroke-width="1" fill="none"/>
<path d="M85.30 327.00v8M142.00 327.00v8" stroke="#999" stroke-width="0.8" fill="none"/>
<path d="M62.80 327.77 L64.50 325.02 L66.00 324.17 L66.80 319.23 L67.50 317.87 L68.30 320.96 L69.70 329.33 L71.00 335.18 L72.30 339.45 L73.38 341.07 L74.45 343.73 L75.52 344.53 L76.60 346.96 L77.70 347.80 L78.80 348.11 L79.90 349.26 L81.00 351.04 L81.96 350.81 L82.91 350.79 L83.87 351.07 L84.82 351.31 L85.78 351.25 L86.73 350.89 L87.69 351.73 L88.64 351.24 L89.60 351.44 L90.59 352.17 L91.57 352.16 L92.56 352.19 L93.54 352.60 L94.53 353.28 L95.51 352.86 L96.50 353.34 L97.58 353.65 L98.65 354.50 L99.72 354.90 L100.80 355.30 L100.80 355.50 L62.80 355.50Z" fill="#2e2e2e" stroke="#666" stroke-width="0.6" stroke-linejoin="round"/>
<path d="M85.30 331.00H142.00" stroke="#777" stroke-width="1.3" fill="none"/>
<text x="117.60" y="328.40" font-size="7.3" text-anchor="middle" fill="#111" stroke="#111" stroke-width="0.26">8%</text>
<path d="M181.20 304.50V355.90" stroke="#444" stroke-width="0.9" fill="none"/>
<path d="M180.50 304.50V355.90" stroke="#444" stroke-width="0.9" stroke-dasharray="0.6 0.9" stroke-opacity="0.75" fill="none"/>
<path d="M181.20 355.90H259.50" stroke="#a8a8a8" stroke-width="0.9" stroke-dasharray="1.1 0.7" fill="none"/>
<text x="0.00" y="0.00" font-size="2.7" text-anchor="start" fill="#666" stroke="#666" stroke-width="0.14" transform="translate(179.20,356.99) rotate(-90)">0</text>
<text x="0.00" y="0.00" font-size="2.7" text-anchor="start" fill="#666" stroke="#666" stroke-width="0.14" transform="translate(179.20,343.38) rotate(-90)">40</text>
<text x="0.00" y="0.00" font-size="2.7" text-anchor="start" fill="#666" stroke="#666" stroke-width="0.14" transform="translate(179.20,328.68) rotate(-90)">80</text>
<text x="0.00" y="0.00" font-size="2.7" text-anchor="start" fill="#666" stroke="#666" stroke-width="0.14" transform="translate(179.20,315.06) rotate(-90)">120</text>
<path d="M181.20 355.90v1.6" stroke="#777" stroke-width="0.7"/>
<text x="179.50" y="362.90" font-size="2.7" text-anchor="start" fill="#444" stroke="#444" stroke-width="0.14">10<tspan dy="-1.9" dx="-0.4" font-size="2.4">0</tspan></text>
<path d="M207.30 355.90v1.6" stroke="#777" stroke-width="0.7"/>
<text x="205.60" y="362.90" font-size="2.7" text-anchor="start" fill="#444" stroke="#444" stroke-width="0.14">10<tspan dy="-1.9" dx="-0.4" font-size="2.4">1</tspan></text>
<path d="M233.40 355.90v1.6" stroke="#777" stroke-width="0.7"/>
<text x="231.70" y="362.90" font-size="2.7" text-anchor="start" fill="#444" stroke="#444" stroke-width="0.14">10<tspan dy="-1.9" dx="-0.4" font-size="2.4">2</tspan></text>
<path d="M259.50 355.90v1.6" stroke="#777" stroke-width="0.7"/>
<text x="257.80" y="362.90" font-size="2.7" text-anchor="start" fill="#444" stroke="#444" stroke-width="0.14">10<tspan dy="-1.9" dx="-0.4" font-size="2.4">3</tspan></text>
<path d="M181.00 355.75H250.00" stroke="#3a3a3a" stroke-width="1" fill="none"/>
<path d="M203.40 327.00v8M258.60 327.00v8" stroke="#999" stroke-width="0.8" fill="none"/>
<path d="M181.70 354.81 L182.85 353.62 L184.00 352.74 L185.10 351.55 L186.20 351.65 L187.30 351.38 L188.21 351.01 L189.11 350.40 L190.02 350.48 L190.93 351.12 L191.84 351.22 L192.74 350.26 L193.65 350.65 L194.56 350.47 L195.46 351.18 L196.37 351.19 L197.28 350.39 L198.19 350.68 L199.09 351.09 L200.00 349.99 L200.95 350.31 L201.90 350.04 L202.85 350.88 L203.80 349.85 L204.75 350.79 L205.70 349.73 L206.65 350.19 L207.60 350.28 L208.55 349.95 L209.50 349.42 L210.45 350.19 L211.40 350.31 L212.35 349.75 L213.30 350.06 L214.29 349.78 L215.27 349.27 L216.26 348.97 L217.24 348.33 L218.23 347.75 L219.21 347.32 L220.20 346.30 L221.15 345.67 L222.10 344.18 L223.05 343.36 L224.00 341.92 L225.03 341.10 L226.07 339.58 L227.10 338.64 L228.07 338.97 L229.03 340.43 L230.00 342.12 L231.15 343.76 L232.30 345.18 L233.23 347.23 L234.15 347.33 L235.07 348.82 L236.00 349.74 L237.07 350.33 L238.13 351.89 L239.20 352.80 L240.17 353.00 L241.15 353.12 L242.12 353.97 L243.10 353.98 L244.07 354.42 L245.05 355.02 L246.03 355.36 L247.00 355.70 L247.00 355.90 L181.70 355.90Z" fill="#2e2e2e" stroke="#666" stroke-width="0.6" stroke-linejoin="round"/>
<path d="M203.40 331.00H258.60" stroke="#666" stroke-width="1.3" fill="none"/>
<text x="237.50" y="329.30" font-size="7.3" text-anchor="middle" fill="#111" stroke="#111" stroke-width="0.26">73%</text>
<path d="M300.00 305.40V355.90" stroke="#444" stroke-width="0.9" fill="none"/>
<path d="M299.30 305.40V355.90" stroke="#444" stroke-width="0.9" stroke-dasharray="0.6 0.9" stroke-opacity="0.75" fill="none"/>
<path d="M300.00 355.90H378.00" stroke="#a8a8a8" stroke-width="0.9" stroke-dasharray="1.1 0.7" fill="none"/>
<text x="0.00" y="0.00" font-size="2.7" text-anchor="start" fill="#666" stroke="#666" stroke-width="0.14" transform="translate(298.00,356.99) rotate(-90)">0</text>
<text x="0.00" y="0.00" font-size="2.7" text-anchor="start" fill="#666" stroke="#666" stroke-width="0.14" transform="translate(298.00,343.38) rotate(-90)">40</text>
<text x="0.00" y="0.00" font-size="2.7" text-anchor="start" fill="#666" stroke="#666" stroke-width="0.14" transform="translate(298.00,328.68) rotate(-90)">80</text>
<text x="0.00" y="0.00" font-size="2.7" text-anchor="start" fill="#666" stroke="#666" stroke-width="0.14" transform="translate(298.00,315.06) rotate(-90)">120</text>
<path d="M300.00 355.90v1.6" stroke="#777" stroke-width="0.7"/>
<text x="298.30" y="362.90" font-size="2.7" text-anchor="start" fill="#444" stroke="#444" stroke-width="0.14">10<tspan dy="-1.9" dx="-0.4" font-size="2.4">0</tspan></text>
<path d="M326.00 355.90v1.6" stroke="#777" stroke-width="0.7"/>
<text x="324.30" y="362.90" font-size="2.7" text-anchor="start" fill="#444" stroke="#444" stroke-width="0.14">10<tspan dy="-1.9" dx="-0.4" font-size="2.4">1</tspan></text>
<path d="M352.00 355.90v1.6" stroke="#777" stroke-width="0.7"/>
<text x="350.30" y="362.90" font-size="2.7" text-anchor="start" fill="#444" stroke="#444" stroke-width="0.14">10<tspan dy="-1.9" dx="-0.4" font-size="2.4">2</tspan></text>
<path d="M378.00 355.90v1.6" stroke="#777" stroke-width="0.7"/>
<text x="376.30" y="362.90" font-size="2.7" text-anchor="start" fill="#444" stroke="#444" stroke-width="0.14">10<tspan dy="-1.9" dx="-0.4" font-size="2.4">3</tspan></text>
<path d="M300.00 355.75H332.00" stroke="#3a3a3a" stroke-width="1" fill="none"/>
<path d="M322.00 326.50v8M376.50 326.50v8" stroke="#999" stroke-width="0.8" fill="none"/>
<path d="M300.50 329.16 L302.10 320.85 L303.40 315.27 L304.70 309.99 L306.00 316.80 L307.30 323.77 L308.60 331.18 L309.90 340.04 L311.07 343.62 L312.23 347.19 L313.40 349.70 L314.47 350.81 L315.55 352.18 L316.62 353.63 L317.70 354.73 L318.63 354.78 L319.56 354.76 L320.49 354.95 L321.42 355.04 L322.35 355.12 L323.28 355.21 L324.22 355.29 L325.15 355.38 L326.08 355.46 L327.01 355.55 L327.94 355.63 L328.87 355.72 L329.80 355.80 L329.80 355.90 L300.50 355.90Z" fill="#2e2e2e" stroke="#666" stroke-width="0.6" stroke-linejoin="round"/>
<path d="M322.00 330.50H376.50" stroke="#555" stroke-width="1.3" fill="none"/>
<text x="354.00" y="328.70" font-size="7.3" text-anchor="middle" fill="#111" stroke="#111" stroke-width="0.26">1%</text>
<path d="M418.00 317.50V356.30" stroke="#aaa" stroke-width="0.9" fill="none"/>
<path d="M417.30 317.50V356.30" stroke="#aaa" stroke-width="0.9" stroke-dasharray="0.6 0.9" stroke-opacity="0.75" fill="none"/>
<path d="M418.00 356.30H497.00" stroke="#a8a8a8" stroke-width="0.9" stroke-dasharray="1.1 0.7" fill="none"/>
<text x="0.00" y="0.00" font-size="2.7" text-anchor="start" fill="#666" stroke="#666" stroke-width="0.14" transform="translate(416.00,357.39) rotate(-90)">0</text>
<text x="0.00" y="0.00" font-size="2.7" text-anchor="start" fill="#666" stroke="#666" stroke-width="0.14" transform="translate(416.00,343.78) rotate(-90)">40</text>
<text x="0.00" y="0.00" font-size="2.7" text-anchor="start" fill="#666" stroke="#666" stroke-width="0.14" transform="translate(416.00,329.08) rotate(-90)">80</text>
<path d="M418.00 356.30v1.6" stroke="#777" stroke-width="0.7"/>
<text x="416.30" y="363.30" font-size="2.7" text-anchor="start" fill="#444" stroke="#444" stroke-width="0.14">10<tspan dy="-1.9" dx="-0.4" font-size="2.4">0</tspan></text>
<path d="M444.33 356.30v1.6" stroke="#777" stroke-width="0.7"/>
<text x="442.63" y="363.30" font-size="2.7" text-anchor="start" fill="#444" stroke="#444" stroke-width="0.14">10<tspan dy="-1.9" dx="-0.4" font-size="2.4">1</tspan></text>
<path d="M470.67 356.30v1.6" stroke="#777" stroke-width="0.7"/>
<text x="468.97" y="363.30" font-size="2.7" text-anchor="start" fill="#444" stroke="#444" stroke-width="0.14">10<tspan dy="-1.9" dx="-0.4" font-size="2.4">2</tspan></text>
<path d="M497.00 356.30v1.6" stroke="#777" stroke-width="0.7"/>
<text x="495.30" y="363.30" font-size="2.7" text-anchor="start" fill="#444" stroke="#444" stroke-width="0.14">10<tspan dy="-1.9" dx="-0.4" font-size="2.4">3</tspan></text>
<path d="M418.00 356.15H490.00" stroke="#3a3a3a" stroke-width="1" fill="none"/>
<path d="M440.30 326.30v8M495.30 326.30v8" stroke="#999" stroke-width="0.8" fill="none"/>
<path d="M430.00 356.10 L430.96 355.91 L431.92 355.72 L432.88 355.53 L433.84 355.34 L434.80 355.26 L435.76 354.82 L436.72 354.79 L437.68 353.94 L438.64 353.71 L439.60 353.93 L440.53 353.72 L441.45 352.30 L442.38 352.59 L443.30 352.00 L444.23 352.02 L445.15 350.89 L446.07 350.21 L447.00 349.64 L447.93 349.62 L448.85 348.58 L449.77 348.90 L450.70 347.94 L451.62 347.70 L452.55 346.66 L453.47 346.73 L454.40 346.24 L455.46 345.17 L456.52 344.69 L457.58 343.50 L458.64 342.99 L459.70 342.02 L460.62 342.18 L461.55 342.08 L462.48 341.80 L463.40 342.63 L464.32 342.73 L465.25 341.63 L466.18 343.03 L467.10 342.06 L468.07 343.27 L469.03 345.34 L470.00 345.08 L471.17 345.98 L472.33 347.43 L473.50 348.25 L474.40 348.80 L475.30 350.62 L476.20 350.66 L477.10 351.41 L478.00 351.66 L478.90 352.46 L479.80 353.20 L480.83 353.88 L481.87 353.99 L482.90 354.60 L483.93 355.33 L484.97 355.72 L486.00 356.10 L486.00 356.30 L430.00 356.30Z" fill="#2e2e2e" stroke="#666" stroke-width="0.6" stroke-linejoin="round"/>
<path d="M440.30 330.30H495.30" stroke="#555" stroke-width="1.3" fill="none"/>
<text x="473.50" y="328.20" font-size="7.3" text-anchor="middle" fill="#111" stroke="#111" stroke-width="0.26">96%</text>
<path d="M62.30 378.50V430.00" stroke="#555" stroke-width="0.9" fill="none"/>
<path d="M61.60 378.50V430.00" stroke="#555" stroke-width="0.9" stroke-dasharray="0.6 0.9" stroke-opacity="0.75" fill="none"/>
<path d="M62.30 430.00H143.20" stroke="#a8a8a8" stroke-width="0.9" stroke-dasharray="1.1 0.7" fill="none"/>
<text x="0.00" y="0.00" font-size="2.7" text-anchor="start" fill="#666" stroke="#666" stroke-width="0.14" transform="translate(60.30,431.09) rotate(-90)">0</text>
<text x="0.00" y="0.00" font-size="2.7" text-anchor="start" fill="#666" stroke="#666" stroke-width="0.14" transform="translate(60.30,417.48) rotate(-90)">40</text>
<text x="0.00" y="0.00" font-size="2.7" text-anchor="start" fill="#666" stroke="#666" stroke-width="0.14" transform="translate(60.30,402.78) rotate(-90)">80</text>
<text x="0.00" y="0.00" font-size="2.7" text-anchor="start" fill="#666" stroke="#666" stroke-width="0.14" transform="translate(60.30,389.16) rotate(-90)">120</text>
<path d="M62.30 430.00v1.6" stroke="#777" stroke-width="0.7"/>
<text x="60.60" y="437.00" font-size="2.7" text-anchor="start" fill="#444" stroke="#444" stroke-width="0.14">10<tspan dy="-1.9" dx="-0.4" font-size="2.4">0</tspan></text>
<path d="M89.27 430.00v1.6" stroke="#777" stroke-width="0.7"/>
<text x="87.57" y="437.00" font-size="2.7" text-anchor="start" fill="#444" stroke="#444" stroke-width="0.14">10<tspan dy="-1.9" dx="-0.4" font-size="2.4">1</tspan></text>
<path d="M116.23 430.00v1.6" stroke="#777" stroke-width="0.7"/>
<text x="114.53" y="437.00" font-size="2.7" text-anchor="start" fill="#444" stroke="#444" stroke-width="0.14">10<tspan dy="-1.9" dx="-0.4" font-size="2.4">2</tspan></text>
<path d="M143.20 430.00v1.6" stroke="#777" stroke-width="0.7"/>
<text x="141.50" y="437.00" font-size="2.7" text-anchor="start" fill="#444" stroke="#444" stroke-width="0.14">10<tspan dy="-1.9" dx="-0.4" font-size="2.4">3</tspan></text>
<path d="M62.00 429.85H143.00" stroke="#3a3a3a" stroke-width="1" fill="none"/>
<path d="M87.90 404.40v8M142.90 404.40v8" stroke="#999" stroke-width="0.8" fill="none"/>
<path d="M62.80 420.29 L64.50 415.07 L66.20 411.62 L67.50 411.09 L68.80 410.41 L70.00 405.23 L71.10 400.31 L72.30 403.16 L73.70 397.07 L75.20 401.07 L76.60 407.40 L78.30 414.24 L80.10 420.36 L81.10 419.92 L82.10 420.55 L83.10 421.43 L84.10 421.95 L85.10 422.36 L86.10 423.68 L87.07 423.22 L88.03 424.22 L89.00 424.83 L89.97 424.98 L90.93 424.82 L91.90 425.82 L92.87 425.64 L93.83 425.83 L94.80 426.71 L95.76 427.02 L96.71 427.16 L97.67 427.20 L98.62 427.36 L99.58 427.70 L100.53 427.91 L101.49 428.52 L102.44 428.68 L103.40 428.82 L104.31 428.55 L105.21 428.86 L106.12 428.73 L107.03 429.10 L107.93 429.10 L108.84 429.00 L109.75 429.03 L110.65 429.07 L111.56 429.10 L112.47 429.13 L113.37 429.17 L114.28 429.20 L115.19 429.23 L116.09 429.27 L117.00 429.30 L117.92 428.94 L118.85 428.29 L119.78 427.88 L120.70 427.49 L121.85 428.55 L123.00 429.30 L123.91 429.31 L124.82 429.33 L125.73 429.34 L126.64 429.35 L127.55 429.37 L128.45 429.38 L129.36 429.40 L130.27 429.41 L131.18 429.42 L132.09 429.44 L133.00 429.45 L133.91 429.46 L134.82 429.48 L135.73 429.49 L136.64 429.50 L137.55 429.52 L138.45 429.53 L139.36 429.55 L140.27 429.56 L141.18 429.57 L142.09 429.59 L143.00 429.60 L143.00 430.00 L62.80 430.00Z" fill="#2e2e2e" stroke="#666" stroke-width="0.6" stroke-linejoin="round"/>
<path d="M87.90 408.40H142.90" stroke="#4a4a4a" stroke-width="1.3" fill="none"/>
<text x="117.60" y="406.00" font-size="7.3" text-anchor="middle" fill="#111" stroke="#111" stroke-width="0.26">7%</text>
<path d="M180.90 378.50V429.50" stroke="#555" stroke-width="0.9" fill="none"/>
<path d="M180.20 378.50V429.50" stroke="#555" stroke-width="0.9" stroke-dasharray="0.6 0.9" stroke-opacity="0.75" fill="none"/>
<path d="M180.90 429.50H260.00" stroke="#a8a8a8" stroke-width="0.9" stroke-dasharray="1.1 0.7" fill="none"/>
<text x="0.00" y="0.00" font-size="2.7" text-anchor="start" fill="#666" stroke="#666" stroke-width="0.14" transform="translate(178.90,430.59) rotate(-90)">0</text>
<text x="0.00" y="0.00" font-size="2.7" text-anchor="start" fill="#666" stroke="#666" stroke-width="0.14" transform="translate(178.90,416.98) rotate(-90)">40</text>
<text x="0.00" y="0.00" font-size="2.7" text-anchor="start" fill="#666" stroke="#666" stroke-width="0.14" transform="translate(178.90,402.28) rotate(-90)">80</text>
<text x="0.00" y="0.00" font-size="2.7" text-anchor="start" fill="#666" stroke="#666" stroke-width="0.14" transform="translate(178.90,388.66) rotate(-90)">120</text>
<path d="M180.90 429.50v1.6" stroke="#777" stroke-width="0.7"/>
<text x="179.20" y="436.50" font-size="2.7" text-anchor="start" fill="#444" stroke="#444" stroke-width="0.14">10<tspan dy="-1.9" dx="-0.4" font-size="2.4">0</tspan></text>
<path d="M207.27 429.50v1.6" stroke="#777" stroke-width="0.7"/>
<text x="205.57" y="436.50" font-size="2.7" text-anchor="start" fill="#444" stroke="#444" stroke-width="0.14">10<tspan dy="-1.9" dx="-0.4" font-size="2.4">1</tspan></text>
<path d="M233.63 429.50v1.6" stroke="#777" stroke-width="0.7"/>
<text x="231.93" y="436.50" font-size="2.7" text-anchor="start" fill="#444" stroke="#444" stroke-width="0.14">10<tspan dy="-1.9" dx="-0.4" font-size="2.4">2</tspan></text>
<path d="M260.00 429.50v1.6" stroke="#777" stroke-width="0.7"/>
<text x="258.30" y="436.50" font-size="2.7" text-anchor="start" fill="#444" stroke="#444" stroke-width="0.14">10<tspan dy="-1.9" dx="-0.4" font-size="2.4">3</tspan></text>
<path d="M181.00 429.35H260.00" stroke="#3a3a3a" stroke-width="1" fill="none"/>
<path d="M205.50 405.10v8M260.00 405.10v8" stroke="#999" stroke-width="0.8" fill="none"/>
<path d="M181.30 424.83 L182.27 424.98 L183.23 425.05 L184.20 425.66 L185.17 424.52 L186.13 425.67 L187.10 424.54 L188.07 424.68 L189.03 426.13 L190.00 425.54 L190.91 425.05 L191.82 424.88 L192.74 425.67 L193.65 425.97 L194.56 426.10 L195.47 425.08 L196.39 426.17 L197.30 425.68 L198.21 426.34 L199.12 425.84 L200.04 425.29 L200.95 426.46 L201.86 425.56 L202.78 426.02 L203.69 425.55 L204.60 425.84 L205.53 426.37 L206.47 425.35 L207.40 425.82 L208.33 426.37 L209.27 426.31 L210.20 425.50 L211.13 425.45 L212.07 425.58 L213.00 425.72 L213.99 425.27 L214.98 425.18 L215.97 424.19 L216.96 425.44 L217.94 424.04 L218.93 423.74 L219.92 424.86 L220.91 423.29 L221.90 423.52 L222.87 422.89 L223.83 423.71 L224.80 423.28 L225.77 422.95 L226.73 421.56 L227.70 422.01 L228.67 422.14 L229.63 421.73 L230.60 421.72 L231.56 421.65 L232.51 421.08 L233.47 419.27 L234.42 419.79 L235.38 418.13 L236.33 418.90 L237.29 418.39 L238.24 417.47 L239.20 417.57 L240.24 416.54 L241.28 414.78 L242.32 414.21 L243.36 413.64 L244.40 413.27 L245.43 413.79 L246.47 414.77 L247.50 416.52 L248.47 417.21 L249.43 419.43 L250.40 419.19 L251.42 420.85 L252.43 421.45 L253.45 422.80 L254.47 424.60 L255.48 426.10 L256.50 426.11 L257.67 427.77 L258.83 428.13 L260.00 429.00 L260.00 429.50 L181.30 429.50Z" fill="#2e2e2e" stroke="#666" stroke-width="0.6" stroke-linejoin="round"/>
<path d="M205.50 409.10H260.00" stroke="#4a4a4a" stroke-width="1.3" fill="none"/>
<text x="237.50" y="407.00" font-size="7.3" text-anchor="middle" fill="#111" stroke="#111" stroke-width="0.26">78%</text>
<path d="M300.00 378.50V429.50" stroke="#555" stroke-width="0.9" fill="none"/>
<path d="M299.30 378.50V429.50" stroke="#555" stroke-width="0.9" stroke-dasharray="0.6 0.9" stroke-opacity="0.75" fill="none"/>
<path d="M300.00 429.50H378.00" stroke="#a8a8a8" stroke-width="0.9" stroke-dasharray="1.1 0.7" fill="none"/>
<text x="0.00" y="0.00" font-size="2.7" text-anchor="start" fill="#666" stroke="#666" stroke-width="0.14" transform="translate(298.00,430.59) rotate(-90)">0</text>
<text x="0.00" y="0.00" font-size="2.7" text-anchor="start" fill="#666" stroke="#666" stroke-width="0.14" transform="translate(298.00,416.98) rotate(-90)">40</text>
<text x="0.00" y="0.00" font-size="2.7" text-anchor="start" fill="#666" stroke="#666" stroke-width="0.14" transform="translate(298.00,402.28) rotate(-90)">80</text>
<text x="0.00" y="0.00" font-size="2.7" text-anchor="start" fill="#666" stroke="#666" stroke-width="0.14" transform="translate(298.00,388.66) rotate(-90)">120</text>
<path d="M300.00 429.50v1.6" stroke="#777" stroke-width="0.7"/>
<text x="298.30" y="436.50" font-size="2.7" text-anchor="start" fill="#444" stroke="#444" stroke-width="0.14">10<tspan dy="-1.9" dx="-0.4" font-size="2.4">0</tspan></text>
<path d="M326.00 429.50v1.6" stroke="#777" stroke-width="0.7"/>
<text x="324.30" y="436.50" font-size="2.7" text-anchor="start" fill="#444" stroke="#444" stroke-width="0.14">10<tspan dy="-1.9" dx="-0.4" font-size="2.4">1</tspan></text>
<path d="M352.00 429.50v1.6" stroke="#777" stroke-width="0.7"/>
<text x="350.30" y="436.50" font-size="2.7" text-anchor="start" fill="#444" stroke="#444" stroke-width="0.14">10<tspan dy="-1.9" dx="-0.4" font-size="2.4">2</tspan></text>
<path d="M378.00 429.50v1.6" stroke="#777" stroke-width="0.7"/>
<text x="376.30" y="436.50" font-size="2.7" text-anchor="start" fill="#444" stroke="#444" stroke-width="0.14">10<tspan dy="-1.9" dx="-0.4" font-size="2.4">3</tspan></text>
<path d="M300.00 429.35H378.00" stroke="#3a3a3a" stroke-width="1" fill="none"/>
<path d="M324.60 403.90v8M375.60 403.90v8" stroke="#999" stroke-width="0.8" fill="none"/>
<path d="M300.50 426.85 L301.47 426.15 L302.44 424.92 L303.41 423.84 L304.39 423.96 L305.36 422.72 L306.33 422.42 L307.30 421.36 L308.38 419.39 L309.45 417.50 L310.53 415.33 L311.60 413.10 L312.77 408.22 L313.93 404.73 L315.10 401.08 L316.40 396.32 L317.70 392.30 L319.00 395.99 L320.30 399.38 L321.60 406.22 L322.90 413.25 L324.20 417.73 L325.50 422.85 L326.54 423.52 L327.58 424.35 L328.62 424.86 L329.66 425.45 L330.70 426.51 L331.70 427.11 L332.70 427.44 L333.70 427.68 L334.70 428.11 L335.70 428.45 L336.70 428.80 L337.62 428.81 L338.54 428.82 L339.45 428.83 L340.37 428.84 L341.29 428.86 L342.21 428.87 L343.12 428.88 L344.04 428.89 L344.96 428.90 L345.88 428.91 L346.80 428.92 L347.71 428.93 L348.63 428.94 L349.55 428.96 L350.47 428.97 L351.38 428.98 L352.30 428.99 L353.22 429.00 L354.14 429.01 L355.06 429.02 L355.97 429.03 L356.89 429.04 L357.81 429.06 L358.73 429.07 L359.64 429.08 L360.56 429.09 L361.48 429.10 L362.40 429.11 L363.32 429.12 L364.23 429.13 L365.15 429.14 L366.07 429.16 L366.99 429.17 L367.90 429.18 L368.82 429.19 L369.74 429.20 L370.66 429.21 L371.58 429.22 L372.49 429.23 L373.41 429.24 L374.33 429.26 L375.25 429.27 L376.16 429.28 L377.08 429.29 L378.00 429.30 L378.00 429.50 L300.50 429.50Z" fill="#2e2e2e" stroke="#666" stroke-width="0.6" stroke-linejoin="round"/>
<path d="M324.60 407.90H375.60" stroke="#4a4a4a" stroke-width="1.3" fill="none"/>
<text x="353.10" y="405.80" font-size="7.3" text-anchor="middle" fill="#111" stroke="#111" stroke-width="0.26">6%</text>
<path d="M418.00 378.20V429.40" stroke="#888" stroke-width="0.9" fill="none"/>
<path d="M417.30 378.20V429.40" stroke="#888" stroke-width="0.9" stroke-dasharray="0.6 0.9" stroke-opacity="0.75" fill="none"/>
<path d="M418.00 429.40H497.40" stroke="#a8a8a8" stroke-width="0.9" stroke-dasharray="1.1 0.7" fill="none"/>
<text x="0.00" y="0.00" font-size="2.7" text-anchor="start" fill="#666" stroke="#666" stroke-width="0.14" transform="translate(416.00,430.49) rotate(-90)">0</text>
<text x="0.00" y="0.00" font-size="2.7" text-anchor="start" fill="#666" stroke="#666" stroke-width="0.14" transform="translate(416.00,416.88) rotate(-90)">40</text>
<text x="0.00" y="0.00" font-size="2.7" text-anchor="start" fill="#666" stroke="#666" stroke-width="0.14" transform="translate(416.00,402.18) rotate(-90)">80</text>
<text x="0.00" y="0.00" font-size="2.7" text-anchor="start" fill="#666" stroke="#666" stroke-width="0.14" transform="translate(416.00,388.56) rotate(-90)">120</text>
<path d="M418.00 429.40v1.6" stroke="#777" stroke-width="0.7"/>
<text x="416.30" y="436.40" font-size="2.7" text-anchor="start" fill="#444" stroke="#444" stroke-width="0.14">10<tspan dy="-1.9" dx="-0.4" font-size="2.4">0</tspan></text>
<path d="M444.47 429.40v1.6" stroke="#777" stroke-width="0.7"/>
<text x="442.77" y="436.40" font-size="2.7" text-anchor="start" fill="#444" stroke="#444" stroke-width="0.14">10<tspan dy="-1.9" dx="-0.4" font-size="2.4">1</tspan></text>
<path d="M470.93 429.40v1.6" stroke="#777" stroke-width="0.7"/>
<text x="469.23" y="436.40" font-size="2.7" text-anchor="start" fill="#444" stroke="#444" stroke-width="0.14">10<tspan dy="-1.9" dx="-0.4" font-size="2.4">2</tspan></text>
<path d="M497.40 429.40v1.6" stroke="#777" stroke-width="0.7"/>
<text x="495.70" y="436.40" font-size="2.7" text-anchor="start" fill="#444" stroke="#444" stroke-width="0.14">10<tspan dy="-1.9" dx="-0.4" font-size="2.4">3</tspan></text>
<path d="M418.00 429.25H497.00" stroke="#3a3a3a" stroke-width="1" fill="none"/>
<path d="M442.80 404.20v8M497.40 404.20v8" stroke="#999" stroke-width="0.8" fill="none"/>
<path d="M431.20 429.20 L432.15 429.05 L433.11 428.89 L434.06 428.74 L435.02 428.58 L435.97 428.43 L436.93 428.41 L437.88 428.12 L438.84 427.51 L439.79 427.92 L440.75 427.50 L441.70 427.25 L442.64 427.01 L443.59 427.43 L444.53 427.33 L445.48 427.28 L446.42 427.10 L447.37 427.01 L448.31 426.53 L449.26 426.55 L450.20 426.46 L451.14 427.11 L452.09 427.04 L453.03 426.40 L453.98 426.18 L454.92 426.48 L455.87 426.32 L456.81 426.78 L457.76 426.37 L458.70 425.81 L459.73 424.53 L460.77 423.15 L461.80 421.73 L462.85 416.85 L463.90 411.22 L465.40 396.37 L466.70 386.30 L467.95 389.80 L469.20 393.17 L470.27 398.38 L471.33 403.41 L472.40 408.20 L473.47 411.78 L474.53 414.87 L475.60 418.71 L476.65 419.10 L477.70 421.12 L478.75 421.58 L479.80 423.25 L480.71 424.22 L481.63 424.97 L482.54 425.37 L483.46 425.52 L484.37 426.04 L485.29 427.10 L486.20 427.66 L487.13 427.52 L488.07 427.68 L489.00 428.00 L489.93 428.29 L490.87 428.44 L491.80 428.63 L492.73 428.82 L493.67 429.01 L494.60 429.20 L494.60 429.40 L431.20 429.40Z" fill="#2e2e2e" stroke="#666" stroke-width="0.6" stroke-linejoin="round"/>
<path d="M442.80 408.20H497.40" stroke="#3a3a3a" stroke-width="1.3" fill="none"/>
<text x="483.40" y="406.70" font-size="7.3" text-anchor="middle" fill="#111" stroke="#111" stroke-width="0.26">99%</text>
</svg>
</body></html>
